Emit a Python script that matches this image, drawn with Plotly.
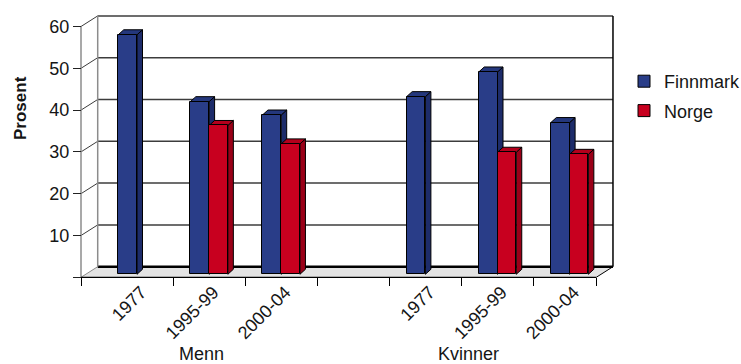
import plotly.graph_objects as go

# ---- data -------------------------------------------------------------
groups = ["Menn", "Kvinner"]
periods = ["1977", "1995-99", "2000-04"]
# category slot index of each bar cluster (slot 3 is the gap between groups)
slots = [0, 1, 2, 4, 5, 6]
tick_labels = periods + periods
finnmark = [57.3, 41.3, 38.1, 42.5, 48.4, 36.3]
norge = [None, 35.6, 31.2, None, 29.2, 28.7]
y_ticks = [0, 10, 20, 30, 40, 50, 60]

# ---- styling / 3D geometry ------------------------------------------
FONT = "Liberation Sans, Arial, sans-serif"
TXT = "#151515"
BLUE, BLUE_SIDE, BLUE_TOP = "#293d88", "#1d2c6a", "#24377c"
RED, RED_SIDE, RED_TOP = "#c8001f", "#9a0018", "#b3001c"

X0, X1 = -0.7767, 6.370      # front floor edge (category units)
DX, DY = 0.2316, 2.536        # depth of the chart box
BDX, BDY = 0.0763, 1.196      # depth of each column
B0 = 0.72                     # column base height above the front edge
BW = 0.26                     # column width
YMAX = 60

fig = go.Figure()

fig.add_trace(go.Bar(
    name="Finnmark", legendgroup="f", x=[s - BW / 2 for s in slots],
    y=finnmark, base=B0, width=BW,
    marker=dict(color=BLUE, line=dict(color="black", width=1)),
    xaxis="x", yaxis="y"))
fig.add_trace(go.Bar(
    name="Norge", legendgroup="n", x=[s + BW / 2 for s in slots],
    y=norge, base=B0, width=BW,
    marker=dict(color=RED, line=dict(color="black", width=1)),
    xaxis="x", yaxis="y"))

shapes = []


def line(x0, y0, x1, y1, color, width):
    shapes.append(dict(type="line", xref="x", yref="y", x0=x0, y0=y0,
                       x1=x1, y1=y1, layer="below",
                       line=dict(color=color, width=width)))


def poly(pts, fill):
    path = "M" + " L".join(f"{x},{y}" for x, y in pts) + " Z"
    shapes.append(dict(type="path", xref="x", yref="y", path=path,
                       layer="below", fillcolor=fill,
                       line=dict(color="black", width=1)))


# floor
shapes.append(dict(type="path", xref="x", yref="y", layer="below",
                   path=f"M{X0},0 L{X1},0 L{X1 + DX},{DY} L{X0 + DX},{DY} Z",
                   fillcolor="#e3e3e3", line=dict(width=0)))
# back-wall gridlines and side-wall diagonals
for v in y_ticks:
    line(X0 + DX, v + DY, X1 + DX, v + DY, "black" if v == 0 else "#3c3c3c",
         2.5 if v == 0 else 1.5)
    line(X0, v, X0 + DX, v + DY, "#8c8c8c" if v == 0 else "#3c3c3c", 1)
# wall edges
line(X0, 0, X0, YMAX, "#8c8c8c", 1.5)
line(X0 + DX, DY, X0 + DX, YMAX + DY, "#8c8c8c", 1.5)
line(X1 + DX, DY, X1 + DX, YMAX + DY, "black", 1.5)
# floor front and right edges
line(X0, 0, X1, 0, "black", 1.2)
line(X1, 0, X1 + DX, DY, "black", 1)

# side and top faces of the columns
for s, f, n in zip(slots, finnmark, norge):
    for val, xl, side, top in ((f, s - BW, BLUE_SIDE, BLUE_TOP),
                               (n, s, RED_SIDE, RED_TOP)):
        if val is None:
            continue
        xr = xl + BW
        t = B0 + val
        poly([(xr, B0), (xr + BDX, B0 + BDY), (xr + BDX, t + BDY), (xr, t)], side)
        poly([(xl, t), (xr, t), (xr + BDX, t + BDY), (xl + BDX, t + BDY)], top)

# pixel frame of the plotting area
W, H = 741, 364
L, R, T, B = 70, 620, 8, 285
PX_PER_SLOT, PX_PER_UNIT = 72.1, 4.18
FRONT_X_PX, FRONT_Y_PX = 137, 277.3
x_range = [(L - FRONT_X_PX) / PX_PER_SLOT, (R - FRONT_X_PX) / PX_PER_SLOT]
y_range = [(FRONT_Y_PX - B) / PX_PER_UNIT, (FRONT_Y_PX - T) / PX_PER_UNIT]
pos_y_axis = (81 - L) / (R - L)
pos_x_axis = (B - FRONT_Y_PX) / (B - T)

boundaries = [X0] + [s + 0.5 for s in range(6)] + [X1]

fig.update_layout(
    width=W, height=H,
    margin=dict(l=L, r=W - R, t=T, b=H - B, pad=0, autoexpand=False),
    paper_bgcolor="white", plot_bgcolor="white",
    barmode="overlay", bargap=0,
    font=dict(family=FONT, size=18, color=TXT),
    shapes=shapes,
    showlegend=True,
    legend=dict(xref="container", yref="container", x=624 / W, y=1 - 63 / H,
                xanchor="left", yanchor="top", traceorder="grouped",
                font=dict(family=FONT, size=18, color=TXT),
                itemwidth=30, tracegroupgap=3, bgcolor="rgba(0,0,0,0)"),
    xaxis=dict(range=x_range, showgrid=False, zeroline=False, showline=False,
               tickmode="array", tickvals=[s + 0.06 for s in slots],
               ticktext=tick_labels, tickangle=-45, ticks="",
               anchor="free", position=pos_x_axis,
               tickfont=dict(family=FONT, size=18)),
    xaxis2=dict(range=x_range, overlaying="x", showgrid=False, zeroline=False,
                showline=False, tickmode="array", tickvals=boundaries,
                ticks="outside", ticklen=8, tickwidth=1.2, tickcolor="black",
                showticklabels=False, anchor="free", position=pos_x_axis),
    yaxis=dict(range=y_range, showgrid=False, zeroline=False, showline=False,
               tickmode="array", tickvals=y_ticks,
               ticktext=["" if v == 0 else str(v) for v in y_ticks],
               ticks="outside", ticklen=8, tickwidth=1.2, tickcolor="#222",
               anchor="free", position=pos_y_axis,
               tickfont=dict(family=FONT, size=18)),
    annotations=[
        dict(text="<b>Prosent</b>", textangle=-90, xref="paper", yref="paper",
             x=(20 - L) / (R - L), y=(B - 108) / (B - T), showarrow=False,
             xanchor="center", yanchor="middle",
             font=dict(family=FONT, size=17, color=TXT)),
        dict(text=groups[0], xref="x", yref="paper", x=0.89,
             y=(B - 354) / (B - T), showarrow=False,
             xanchor="center", yanchor="middle",
             font=dict(family=FONT, size=18, color=TXT)),
        dict(text=groups[1], xref="x", yref="paper", x=4.6,
             y=(B - 354) / (B - T), showarrow=False,
             xanchor="center", yanchor="middle",
             font=dict(family=FONT, size=18, color=TXT)),
    ],
)
fig.add_trace(go.Scatter(x=[None], y=[None], xaxis="x2", yaxis="y",
                         showlegend=False))

fig.write_html("out.html")
